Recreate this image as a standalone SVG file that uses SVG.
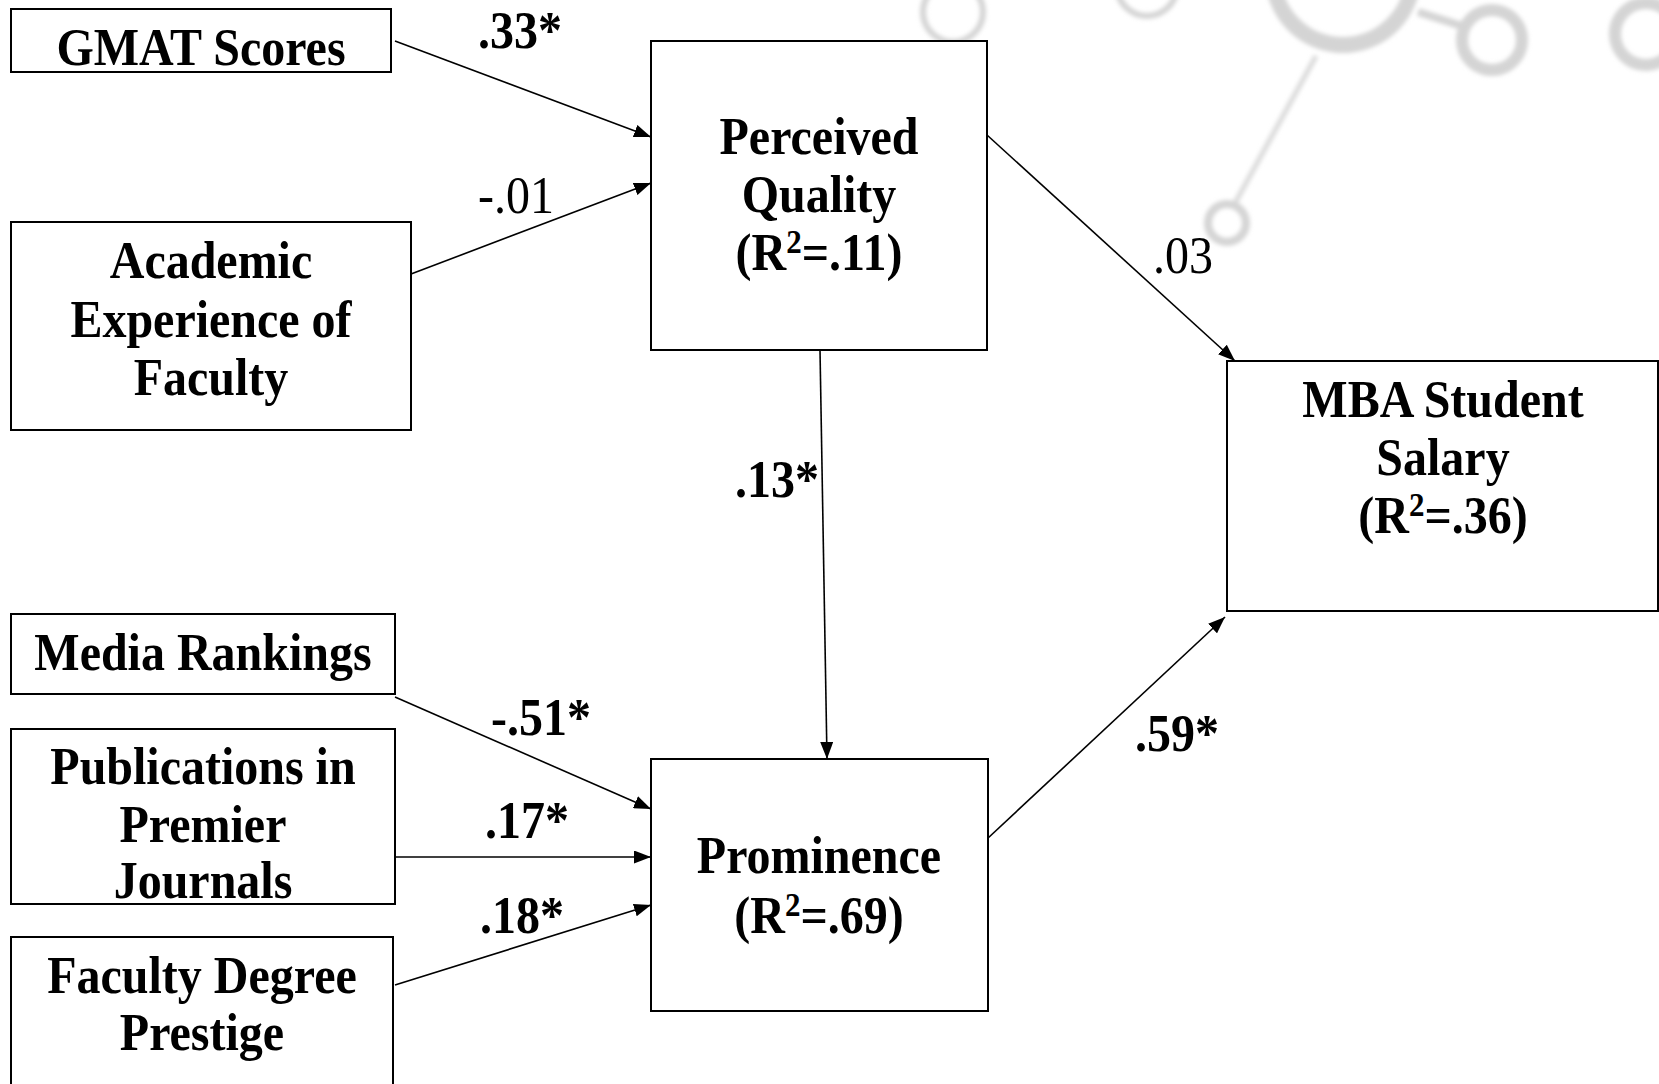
<svg xmlns="http://www.w3.org/2000/svg" width="1659" height="1084" viewBox="0 0 1659 1084">
<style>
.box{fill:#fff;stroke:#000;stroke-width:2}
.nt{font-family:"Liberation Serif","Times New Roman",serif;font-weight:bold;font-size:48px;text-anchor:middle;fill:#000}
.lb{font-family:"Liberation Serif","Times New Roman",serif;font-size:48px;fill:#000}
.b{font-weight:bold}
.sup{font-size:31px}
.edge{stroke:#000;stroke-width:1.6;fill:none;marker-end:url(#ah)}
.wm{fill:none;stroke:#d4d4d4}
</style>
<defs>
<marker id="ah" markerUnits="userSpaceOnUse" markerWidth="18" markerHeight="13" refX="17" refY="6.5" orient="auto">
<path d="M0,0 L17,6.5 L0,13 z" fill="#000"/>
</marker>
<filter id="bl" x="-20%" y="-20%" width="140%" height="140%"><feGaussianBlur stdDeviation="2"/></filter>
</defs>
<rect width="1659" height="1084" fill="#fff"/>
<g id="watermark" filter="url(#bl)">
<circle class="wm" cx="953" cy="12" r="30" stroke-width="6" stroke="#f2f2f2"/>
<circle class="wm" cx="1147" cy="-14" r="30" stroke-width="6" stroke="#e2e2e2"/>
<circle class="wm" cx="1343" cy="-25" r="70" stroke-width="16"/>
<line x1="1418" y1="12" x2="1462" y2="26" stroke="#d4d4d4" stroke-width="8"/>
<circle class="wm" cx="1492" cy="40" r="30" stroke-width="12"/>
<circle class="wm" cx="1646" cy="34" r="31" stroke-width="12"/>
<line x1="1316" y1="56" x2="1234" y2="205" stroke="#dadada" stroke-width="5"/>
<circle class="wm" cx="1227" cy="223" r="19" stroke-width="8" stroke="#dadada"/>
</g>
<g id="connectors">
<line class="edge" x1="395" y1="41" x2="651" y2="137"/>
<line class="edge" x1="411" y1="274" x2="651" y2="183"/>
<line class="edge" x1="987" y1="135" x2="1235" y2="361"/>
<line class="edge" x1="820" y1="350" x2="827" y2="759"/>
<line class="edge" x1="395" y1="697" x2="651" y2="809"/>
<line class="edge" x1="395" y1="857" x2="651" y2="857"/>
<line class="edge" x1="395" y1="985" x2="651" y2="905"/>
<line class="edge" x1="987" y1="839" x2="1225" y2="617"/>
</g>
<g id="edge-labels">
<text class="lb b" x="478" y="48" transform="translate(0 48) scale(1 1.08) translate(0 -48)">.33*</text>
<text class="lb" x="478" y="213" transform="translate(0 213) scale(1 1.08) translate(0 -213)">-.01</text>
<text class="lb" x="1153" y="273" transform="translate(0 273) scale(1 1.08) translate(0 -273)">.03</text>
<text class="lb b" x="735" y="497" transform="translate(0 497) scale(1 1.08) translate(0 -497)">.13*</text>
<text class="lb b" x="491" y="735" transform="translate(0 735) scale(1 1.08) translate(0 -735)">-.51*</text>
<text class="lb b" x="485" y="838" transform="translate(0 838) scale(1 1.08) translate(0 -838)">.17*</text>
<text class="lb b" x="480" y="933" transform="translate(0 933) scale(1 1.08) translate(0 -933)">.18*</text>
<text class="lb b" x="1135" y="751" transform="translate(0 751) scale(1 1.08) translate(0 -751)">.59*</text>
</g>
<g id="gmat">
<rect class="box" x="11" y="9" width="380" height="63"/>
<text class="nt" x="201" y="65" transform="translate(0 65) scale(1 1.08) translate(0 -65)">GMAT Scores</text>
</g>
<g id="academic">
<rect class="box" x="11" y="222" width="400" height="208"/>
<text class="nt" x="211" y="278" transform="translate(0 278) scale(1 1.08) translate(0 -278)">Academic</text>
<text class="nt" x="211" y="337" transform="translate(0 337) scale(1 1.08) translate(0 -337)">Experience of</text>
<text class="nt" x="211" y="395" transform="translate(0 395) scale(1 1.08) translate(0 -395)">Faculty</text>
</g>
<g id="perceived-quality">
<rect class="box" x="651" y="41" width="336" height="309"/>
<text class="nt" x="819" y="154" transform="translate(0 154) scale(1 1.08) translate(0 -154)">Perceived</text>
<text class="nt" x="819" y="212" transform="translate(0 212) scale(1 1.08) translate(0 -212)">Quality</text>
<text class="nt" x="819" y="270" transform="translate(0 270) scale(1 1.08) translate(0 -270)">(R<tspan class="sup" dy="-16">2</tspan><tspan dy="16">=.11)</tspan></text>
</g>
<g id="mba-salary">
<rect class="box" x="1227" y="361" width="431" height="250"/>
<text class="nt" x="1443" y="417" transform="translate(0 417) scale(1 1.08) translate(0 -417)">MBA Student</text>
<text class="nt" x="1443" y="475" transform="translate(0 475) scale(1 1.08) translate(0 -475)">Salary</text>
<text class="nt" x="1443" y="533" transform="translate(0 533) scale(1 1.08) translate(0 -533)">(R<tspan class="sup" dy="-16">2</tspan><tspan dy="16">=.36)</tspan></text>
</g>
<g id="media-rankings">
<rect class="box" x="11" y="614" width="384" height="80"/>
<text class="nt" x="203" y="670" transform="translate(0 670) scale(1 1.08) translate(0 -670)">Media Rankings</text>
</g>
<g id="publications">
<rect class="box" x="11" y="729" width="384" height="175"/>
<text class="nt" x="203" y="784" transform="translate(0 784) scale(1 1.08) translate(0 -784)">Publications in</text>
<text class="nt" x="203" y="842" transform="translate(0 842) scale(1 1.08) translate(0 -842)">Premier</text>
<text class="nt" x="203" y="898" transform="translate(0 898) scale(1 1.08) translate(0 -898)">Journals</text>
</g>
<g id="faculty-degree">
<rect class="box" x="11" y="937" width="382" height="160"/>
<text class="nt" x="202" y="993" transform="translate(0 993) scale(1 1.08) translate(0 -993)">Faculty Degree</text>
<text class="nt" x="202" y="1050" transform="translate(0 1050) scale(1 1.08) translate(0 -1050)">Prestige</text>
</g>
<g id="prominence">
<rect class="box" x="651" y="759" width="337" height="252"/>
<text class="nt" x="819" y="873" transform="translate(0 873) scale(1 1.08) translate(0 -873)">Prominence</text>
<text class="nt" x="819" y="933" transform="translate(0 933) scale(1 1.08) translate(0 -933)">(R<tspan class="sup" dy="-16">2</tspan><tspan dy="16">=.69)</tspan></text>
</g>
</svg>
